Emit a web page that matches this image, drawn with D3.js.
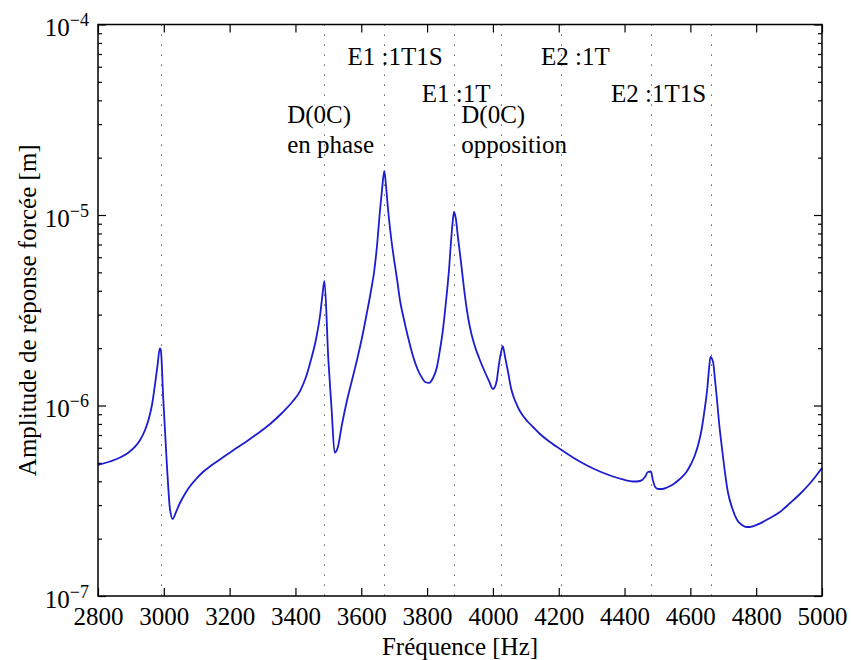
<!DOCTYPE html>
<html><head><meta charset="utf-8">
<script src="https://cdn.jsdelivr.net/npm/d3@7"></script>
<style>
body{margin:0;background:#fff;}
svg text{font-family:"Liberation Serif","Times New Roman",serif;fill:#000;}
</style></head>
<body><svg id="chart" width="851" height="660"></svg>
<script>
// Frequencies (Hz) of the computed response curve
const freq = [
  2800,2836,2867,2891,2912,2928,2943,2955,2964,2973,2981,2988,2991,2998,3009,3019,3027,
  3037,3049,3064,3080,3098,3119,3146,3177,3210,3247,3283,3323,3359,3390,3414,3432,3447,3462,3475,3481,3488,
  3500,3510,3519,3529,3541,3557,3572,3587,3602,3617,3630,3639,3648,3657,3663,3670,
  3675,3681,3690,3699,3709,3718,3730,3742,3757,3772,3785,3794,3806,3818,3830,
  3839,3848,3857,3867,3873,3879,3882,3888,3894,3903,3912,3921,3930,3943,3958,3973,3988,4000,
  4006,4012,4018,4025,4030,4037,4046,4055,4064,4073,4082,4094,4107,4122,4143,4167,4204,4243,4286,4325,4365,4395,4426,
  4447,4462,4471,4480,4486,4493,4502,4514,4529,4547,4568,4587,4602,4614,4626,4635,4644,4651,4657,4661,
  4669,4675,4681,4687,4696,4705,4714,4727,4742,4757,4772,4787,4812,4842,4872,4903,4933,4967,5000];
// Forced response amplitude (m)
const amplitude = [
  4.873e-7,5.082e-7,5.333e-7,5.632e-7,6.058e-7,6.591e-7,7.437e-7,8.598e-7,1.006e-6,1.281e-6,1.631e-6,2.003e-6,1.955e-6,1.108e-6,4.992e-7,2.828e-7,2.537e-7,
  2.760e-7,3.077e-7,3.431e-7,3.779e-7,4.114e-7,4.476e-7,4.873e-7,5.302e-7,5.805e-7,6.394e-7,7.086e-7,7.998e-7,9.133e-7,1.043e-6,1.191e-6,1.411e-6,1.733e-6,2.207e-6,2.986e-6,3.667e-6,4.503e-6,
  1.733e-6,9.471e-7,5.651e-7,6.058e-7,7.901e-7,1.069e-6,1.361e-6,1.733e-6,2.261e-6,3.059e-6,4.039e-6,5.021e-6,6.958e-6,1.062e-5,1.353e-5,1.702e-5,
  1.437e-5,1.088e-5,7.759e-6,5.945e-6,4.558e-6,3.537e-6,2.811e-6,2.288e-6,1.819e-6,1.536e-6,1.394e-6,1.328e-6,1.313e-6,1.394e-6,1.593e-6,
  1.955e-6,2.490e-6,3.452e-6,5.270e-6,7.393e-6,9.645e-6,1.037e-5,9.414e-6,7.574e-6,5.665e-6,4.138e-6,3.171e-6,2.583e-6,2.102e-6,1.776e-6,1.536e-6,1.345e-6,1.221e-6,
  1.251e-6,1.361e-6,1.631e-6,1.909e-6,2.052e-6,1.797e-6,1.499e-6,1.236e-6,1.095e-6,1.006e-6,9.357e-7,8.700e-7,8.193e-7,7.712e-7,7.086e-7,6.551e-7,5.911e-7,5.333e-7,4.842e-7,4.503e-7,4.240e-7,4.089e-7,3.990e-7,
  4.015e-7,4.214e-7,4.476e-7,4.503e-7,4.064e-7,3.735e-7,3.645e-7,3.645e-7,3.713e-7,3.849e-7,4.114e-7,4.449e-7,4.931e-7,5.497e-7,6.433e-7,7.620e-7,9.703e-7,1.206e-6,1.573e-6,1.797e-6,
  1.692e-6,1.361e-6,1.069e-6,8.193e-7,5.984e-7,4.476e-7,3.515e-7,2.897e-7,2.506e-7,2.359e-7,2.302e-7,2.316e-7,2.407e-7,2.567e-7,2.760e-7,3.077e-7,3.431e-7,3.967e-7,4.698e-7];
// Eigenfrequencies marked by dotted lines (Hz)
const modeFreqs = [2990,3488,3670,3883,4026,4207,4480,4663];
// Annotation labels: text, frequency of left edge, amplitude of baseline
const labelTexts = ["E1 :1T1S","E1 :1T","D(0C)","en phase","D(0C)","opposition","E2 :1T","E2 :1T1S"];
const labelFreqs = [3558,3784,3375,3375,3904,3904,4146,4359];
const labelAmps  = [6.13e-5,3.93e-5,3.04e-5,2.11e-5,3.04e-5,2.11e-5,6.13e-5,3.93e-5];
const xTicks = [2800,3000,3200,3400,3600,3800,4000,4200,4400,4600,4800,5000];
const yTicks = [1e-7,1e-6,1e-5,1e-4];
const yExponents = ["−7","−6","−5","−4"];

const svg = d3.select("#chart");
const L=98, R=822, T=24.5, B=596;
const x = d3.scaleLinear().domain([2800,5000]).range([L,R]);
const y = d3.scaleLog().domain([1e-7,1e-4]).range([B,T]);

const minor = [];
for (let e=-7; e<-4; e++) for (let m=2; m<=9; m++) minor.push(m*Math.pow(10,e));

// dotted mode lines
svg.append("g").selectAll("line").data(modeFreqs).join("line")
  .attr("x1",d=>Math.round(x(d))+0.5).attr("x2",d=>Math.round(x(d))+0.5)
  .attr("y1",T).attr("y2",B)
  .attr("stroke","#333").attr("stroke-width",1).attr("stroke-dasharray","1.2,8.8");

// axes
const fs = 25;
const gx = svg.append("g").attr("transform",`translate(0,${B})`)
  .call(d3.axisBottom(x).tickValues(xTicks).tickSizeInner(-8).tickSizeOuter(0).tickPadding(11).tickFormat(d3.format("d")));
gx.selectAll("text").style("font-size",fs+"px").attr("font-family",null);
svg.append("g").attr("transform",`translate(0,${T})`)
  .call(d3.axisTop(x).tickValues(xTicks).tickSizeInner(-8).tickSizeOuter(0).tickFormat(""));
svg.append("g").attr("transform",`translate(${L},0)`)
  .call(d3.axisLeft(y).tickValues(yTicks).tickSizeInner(-8).tickSizeOuter(0).tickFormat(""));
svg.append("g").attr("transform",`translate(${L},0)`)
  .call(d3.axisLeft(y).tickValues(minor).tickSizeInner(-4).tickSizeOuter(0).tickFormat(""));
svg.append("g").attr("transform",`translate(${R},0)`)
  .call(d3.axisRight(y).tickValues(yTicks).tickSizeInner(-8).tickSizeOuter(0).tickFormat(""));
svg.append("g").attr("transform",`translate(${R},0)`)
  .call(d3.axisRight(y).tickValues(minor).tickSizeInner(-4).tickSizeOuter(0).tickFormat(""));
svg.selectAll(".domain").remove();
svg.selectAll(".tick line").attr("stroke","#000").attr("stroke-width",1.2);

// y tick labels with superscript exponent
const yl = svg.append("g").selectAll("text").data(yTicks).join("text")
  .attr("text-anchor","end").attr("x",L-9).attr("y",d=>y(d)+11.5);
yl.append("tspan").style("font-size",fs+"px").text("10");
yl.append("tspan").style("font-size","18px").attr("dy",-10).text((d,i)=>yExponents[i]);

// curve
const pts = freq.map((f,i)=>[f,amplitude[i]]);
svg.append("path").datum(pts)
  .attr("fill","none").attr("stroke","#1c1cd0").attr("stroke-width",1.8).attr("stroke-linejoin","round")
  .attr("d",d3.line().curve(d3.curveMonotoneX).x(d=>x(d[0])).y(d=>y(d[1])));

// frame
svg.append("rect").attr("x",L).attr("y",T).attr("width",R-L).attr("height",B-T)
  .attr("fill","none").attr("stroke","#000").attr("stroke-width",1.5);

// annotations
svg.append("g").selectAll("text").data(labelTexts).join("text")
  .attr("x",(d,i)=>x(labelFreqs[i])).attr("y",(d,i)=>y(labelAmps[i]))
  .style("font-size",fs+"px").text(d=>d);

// axis titles
svg.append("text").attr("x",(L+R)/2).attr("y",655).attr("text-anchor","middle")
  .style("font-size",fs+"px").text("Fréquence [Hz]");
svg.append("text").attr("transform",`translate(36,${(T+B)/2}) rotate(-90)`).attr("text-anchor","middle")
  .style("font-size",fs+"px").text("Amplitude de réponse forcée [m]");
</script></body></html>
